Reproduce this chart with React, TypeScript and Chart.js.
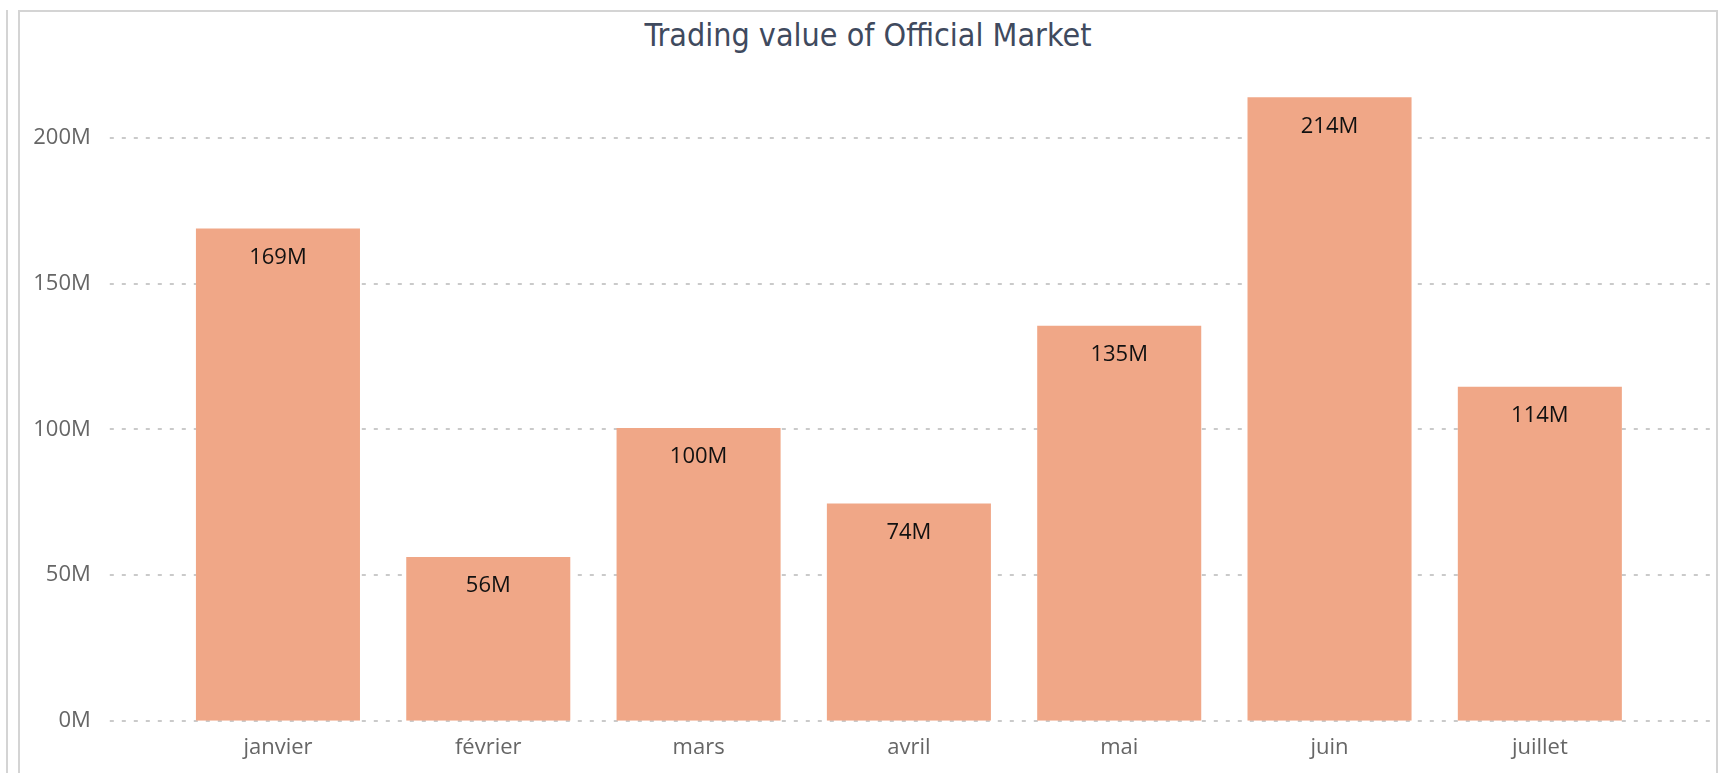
import React, { useEffect, useRef } from 'react';
import { Chart, registerables } from 'chart.js';

Chart.register(...registerables);

// ---- Data ----
const months = ['janvier', 'février', 'mars', 'avril', 'mai', 'juin', 'juillet'];
const tradingValueM = [168.9, 56.2, 100.4, 74.5, 135.5, 213.9, 114.6];
const valueLabels = ['169M', '56M', '100M', '74M', '135M', '214M', '114M'];
const yTicks = [0, 50, 100, 150, 200];
const yTickSuffix = 'M';
const chartTitle = 'Trading value of Official Market';

const BAR_COLOR = '#F0A787';
const AXIS_TEXT = '#666666';

const dashGridPlugin = {
  id: 'dashGrid',
  beforeDatasetsDraw(chart: any) {
    const y = chart.scales.y;
    const area = chart.chartArea;
    const ctx = chart.ctx;
    ctx.save();
    ctx.strokeStyle = '#cacaca';
    ctx.lineWidth = 2;
    ctx.setLineDash([4, 8]);
    yTicks.forEach((v) => {
      const py = Math.round(y.getPixelForValue(v));
      ctx.beginPath();
      ctx.moveTo(area.left - 63, py);
      ctx.lineTo(area.right + 66, py);
      ctx.stroke();
    });
    ctx.restore();
  },
};

const valueLabelPlugin = {
  id: 'valueLabels',
  afterDatasetsDraw(chart: any) {
    const ctx = chart.ctx;
    const meta = chart.getDatasetMeta(0);
    ctx.save();
    ctx.font = '22px "Open Sans"';
    ctx.fillStyle = '#111111';
    ctx.textAlign = 'center';
    ctx.textBaseline = 'middle';
    meta.data.forEach((bar: any, i: number) => {
      ctx.fillText(valueLabels[i], bar.x, bar.y + 29);
    });
    ctx.restore();
  },
};

export default function App() {
  const canvasRef = useRef<HTMLCanvasElement | null>(null);

  useEffect(() => {
    if (!canvasRef.current) return;
    const chart = new Chart(canvasRef.current, {
      type: 'bar',
      data: {
        labels: months,
        datasets: [
          {
            label: 'Trading value',
            data: tradingValueM,
            backgroundColor: BAR_COLOR,
            borderWidth: 0,
            categoryPercentage: 1,
            barPercentage: 0.78,
          },
        ],
      },
      options: {
        responsive: false,
        animation: false,
        devicePixelRatio: 1,
        layout: { padding: { left: 0, right: 73, top: 65, bottom: 0 } },
        plugins: {
          legend: { display: false },
          tooltip: { enabled: false },
          title: { display: false },
        },
        scales: {
          x: {
            grid: { display: false, drawTicks: false },
            border: { display: false },
            ticks: {
              color: AXIS_TEXT,
              font: { family: '"Open Sans"', size: 22 },
              padding: 13.5,
              maxRotation: 0,
            },
            afterFit: (s: any) => {
              s.height = 52.3;
              s.paddingLeft = 0;
              s.paddingRight = 0;
            },
          },
          y: {
            min: 0,
            max: 225,
            grid: { display: false, drawTicks: false },
            border: { display: false },
            afterBuildTicks: (s: any) => {
              s.ticks = yTicks.map((v) => ({ value: v }));
            },
            ticks: {
              color: AXIS_TEXT,
              font: { family: '"Open Sans"', size: 22 },
              padding: 82,
              callback: (v: any) => `${v}${yTickSuffix}`,
            },
            afterFit: (s: any) => {
              s.width = 172.8;
              s.paddingTop = 0;
              s.paddingBottom = 0;
            },
          },
        },
      },
      plugins: [dashGridPlugin, valueLabelPlugin],
    });
    return () => chart.destroy();
  }, []);

  return (
    <div
      style={{
        position: 'fixed',
        left: 0,
        top: 0,
        width: 1718,
        height: 773,
        overflow: 'hidden',
        background: '#ffffff',
      }}
    >
      <div
        style={{
          position: 'absolute',
          left: 6,
          top: 10,
          width: 2,
          height: 800,
          background: '#d4d4d4',
        }}
      />
      <div
        style={{
          position: 'absolute',
          left: 18,
          top: 10,
          width: 1700,
          height: 800,
          boxSizing: 'border-box',
          border: '2px solid #d4d4d4',
        }}
      />
      <div
        style={{
          position: 'absolute',
          left: 18,
          top: 16,
          width: 1700,
          textAlign: 'center',
          fontFamily: '"DejaVu Sans Condensed", "DejaVu Sans", sans-serif',
          fontSize: 32,
          lineHeight: '38px',
          color: '#3f4a5e',
          whiteSpace: 'nowrap',
        }}
      >
        {chartTitle}
      </div>
      <canvas
        ref={canvasRef}
        width={1718}
        height={773}
        style={{ position: 'absolute', left: 0, top: 0, width: 1718, height: 773 }}
      />
    </div>
  );
}
